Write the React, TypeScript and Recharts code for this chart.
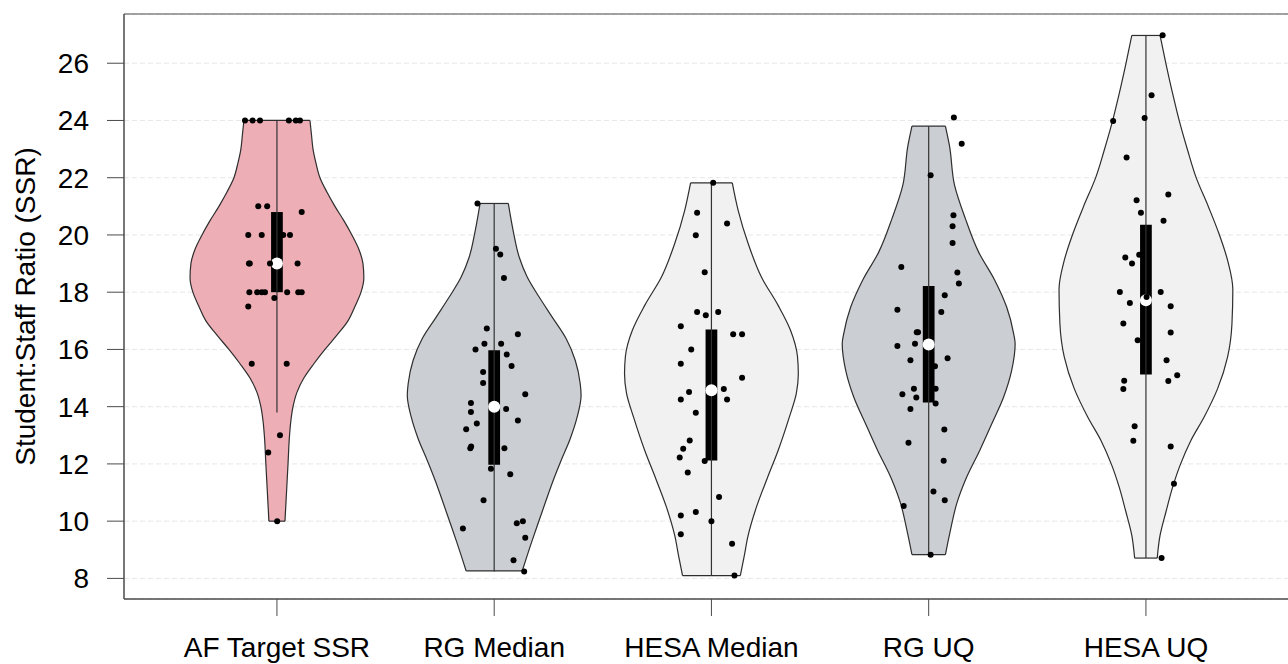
import React from 'react';
import { ComposedChart, Area, Line, Scatter, XAxis, YAxis, CartesianGrid, ReferenceArea } from 'recharts';

const categories = ['AF Target SSR', 'RG Median', 'HESA Median', 'RG UQ', 'HESA UQ'];
const yTicks = [8, 10, 12, 14, 16, 18, 20, 22, 24, 26];

// violin outlines: [SSR, half width in category units]
const afOutline = [
  [10, 0.037], [11, 0.044], [12, 0.051], [13, 0.058], [13.5, 0.064], [14, 0.074], [14.5, 0.092],
  [15, 0.124], [15.5, 0.17], [16, 0.221], [16.5, 0.276], [17, 0.327], [17.5, 0.359], [18, 0.387],
  [18.5, 0.4], [19, 0.396], [19.5, 0.377], [20, 0.345], [20.5, 0.308], [21, 0.267], [21.5, 0.23],
  [22, 0.198], [22.5, 0.18], [23, 0.166], [23.5, 0.159], [24, 0.152],
];
const rgMedianOutline = [
  [8.26, 0.129], [9.33, 0.175], [10.03, 0.207], [10.73, 0.239], [11.43, 0.272], [12.12, 0.308],
  [12.88, 0.35], [13.64, 0.382], [14.4, 0.4], [14.8, 0.396], [15.62, 0.373], [16.38, 0.331],
  [17.13, 0.267], [17.83, 0.207], [18.53, 0.152], [19.23, 0.115], [20.16, 0.087], [21.1, 0.065],
];
const hesaMedianOutline = [
  [8.1, 0.133], [8.74, 0.15], [9.5, 0.169], [10.49, 0.207], [11.5, 0.257], [12.47, 0.307],
  [13.6, 0.357], [14.47, 0.391], [15.15, 0.4], [15.76, 0.396], [16.67, 0.364], [17.54, 0.307],
  [18.53, 0.23], [19.7, 0.169], [20.86, 0.123], [21.82, 0.096],
];
const rgUqOutline = [
  [8.83, 0.077], [9.68, 0.1], [10.61, 0.129], [11.54, 0.175], [12.47, 0.235], [13.41, 0.291],
  [14.34, 0.345], [15.27, 0.382], [16.2, 0.398], [16.55, 0.391], [17.48, 0.359], [18.42, 0.304],
  [19.4, 0.23], [20.57, 0.169], [21.74, 0.119], [23.1, 0.096], [23.8, 0.077],
];
const hesaUqOutline = [
  [8.71, 0.052], [9.5, 0.065], [10.32, 0.092], [11.19, 0.123], [11.95, 0.157], [12.82, 0.207],
  [13.64, 0.268], [14.63, 0.33], [15.74, 0.376], [16.9, 0.396], [18.1, 0.4], [19.11, 0.376],
  [20.05, 0.336], [20.98, 0.288], [22.03, 0.23], [22.96, 0.192], [23.89, 0.157], [24.94, 0.123],
  [25.99, 0.092], [26.97, 0.065],
];

// jittered observations: [offset from centre, SSR]
const afPoints = [
  [-0.147, 24], [-0.112, 24], [-0.078, 24], [0.055, 24], [0.087, 24], [0.106, 24],
  [-0.086, 21], [-0.045, 21], [0.114, 20.8],
  [-0.132, 20], [-0.07, 20], [0.029, 20], [0.06, 20],
  [-0.129, 19], [-0.125, 19], [-0.032, 19], [0.095, 19],
  [-0.127, 18], [-0.091, 18], [-0.07, 18], [-0.055, 18], [0.047, 18], [0.098, 18], [0.114, 18],
  [-0.012, 17.8], [-0.132, 17.5], [-0.116, 15.5], [0.045, 15.5], [0.014, 13], [-0.04, 12.4], [0.001, 10],
];
const rgMedianPoints = [
  [-0.077, 21.1], [0.008, 19.52], [0.028, 19.32], [0.045, 18.5], [-0.034, 16.73], [0.109, 16.53],
  [-0.086, 16.0], [-0.045, 16.2], [0.032, 16.2], [0.058, 15.82], [0.08, 15.42], [-0.051, 15.21],
  [-0.051, 14.83], [0.143, 14.43], [-0.107, 14.13], [-0.107, 13.81], [0.055, 13.92], [-0.08, 13.41],
  [-0.129, 13.21], [0.109, 13.52], [-0.11, 12.55], [-0.106, 12.61], [0.047, 12.55], [-0.015, 11.83],
  [0.074, 11.64], [-0.049, 10.73], [-0.144, 9.74], [0.104, 9.93], [0.132, 10.0], [0.143, 9.42],
  [0.089, 8.63], [0.138, 8.24],
];
const hesaMedianPoints = [
  [0.008, 21.82], [-0.066, 20.78], [0.072, 20.4], [-0.072, 19.99], [-0.031, 18.7], [-0.066, 17.31],
  [-0.026, 17.19], [0.031, 17.31], [-0.141, 16.81], [0.1, 16.53], [0.141, 16.53], [-0.093, 16.0],
  [-0.141, 15.5], [0.141, 15.01], [0.057, 14.62], [-0.103, 14.51], [-0.141, 14.25], [0.072, 14.25],
  [-0.072, 13.79], [-0.1, 12.82], [-0.13, 12.53], [-0.146, 12.22], [-0.031, 12.1], [-0.109, 11.7],
  [0.035, 10.84], [-0.141, 10.2], [-0.072, 10.32], [0, 10.0], [-0.141, 9.54], [0.095, 9.21],
  [0.106, 8.1],
];
const rgUqPoints = [
  [0.116, 24.1], [0.152, 23.19], [0.009, 22.09], [0.114, 20.69], [0.11, 20.3], [0.11, 19.72],
  [-0.126, 18.88], [0.132, 18.69], [0.139, 18.3], [0.074, 17.89], [-0.144, 17.39], [0.058, 17.31],
  [-0.055, 16.6], [-0.049, 16.6], [-0.063, 16.2], [-0.144, 16.12], [-0.084, 15.62], [0.087, 15.69],
  [0.029, 15.41], [-0.068, 14.63], [0.032, 14.63], [-0.121, 14.43], [-0.057, 14.32], [-0.084, 13.92],
  [0.032, 14.11], [0.072, 13.2], [-0.093, 12.74], [0.069, 12.11], [0.022, 11.04], [0.074, 10.73],
  [-0.115, 10.53], [0.009, 8.83],
];
const hesaUqPoints = [
  [0.077, 26.98], [0.026, 24.88], [-0.006, 24.09], [-0.151, 23.98], [-0.089, 22.71], [0.103, 21.41],
  [-0.043, 21.21], [-0.023, 20.78], [0.081, 20.5], [-0.031, 19.31], [-0.095, 19.21], [-0.064, 19.0],
  [-0.12, 18.01], [0.068, 18.01], [0.003, 17.83], [-0.074, 17.62], [0.114, 17.51], [-0.104, 16.91],
  [0.114, 16.59], [-0.038, 16.32], [0.095, 15.62], [0.144, 15.1], [-0.1, 14.91], [0.103, 14.9],
  [-0.104, 14.62], [-0.052, 13.32], [-0.058, 12.81], [0.114, 12.61], [0.129, 11.31], [0.072, 8.71],
];

// [lower whisker, Q1, median, Q3, upper whisker]
const boxStats = [
  [13.8, 18.0, 19.0, 20.8, 24.0],
  [8.24, 11.97, 14.0, 15.97, 21.1],
  [8.1, 12.12, 14.57, 16.7, 21.82],
  [8.83, 14.15, 16.17, 18.22, 23.8],
  [8.71, 15.12, 17.72, 20.36, 26.98],
];

const outlines = [afOutline, rgMedianOutline, hesaMedianOutline, rgUqOutline, hesaUqOutline];
const pointSets = [afPoints, rgMedianPoints, hesaMedianPoints, rgUqPoints, hesaUqPoints];
const violinFills = ['#EEAEB5', '#CBCED3', '#F1F1F1', '#CBCED3', '#F1F1F1'];

const X_DOMAIN: [number, number] = [0.296, 5.7];
const Y_DOMAIN: [number, number] = [7.28, 27.72];
const BOX_HALF = 0.027;
const FONT = '"Liberation Sans", Arial, sans-serif';
const OUTLINE = '#2e2e2e';
const AXIS = '#4a4a4a';

const violinData = outlines.map((o, i) => o.map(([v, w]) => ({ v, range: [i + 1 - w, i + 1 + w] })));
const capData = outlines.flatMap((o, i) =>
  [o[0], o[o.length - 1]].map(([v, w]) => [{ v, x: i + 1 - w }, { v, x: i + 1 + w }])
);
const whiskerData = boxStats.map(([lo, , , , hi], i) => [{ v: lo, x: i + 1 }, { v: hi, x: i + 1 }]);
const boxData = boxStats.map(([, q1, , q3], i) => [
  { v: q1, range: [i + 1 - BOX_HALF, i + 1 + BOX_HALF] },
  { v: q3, range: [i + 1 - BOX_HALF, i + 1 + BOX_HALF] },
]);
const medianData = boxStats.map(([, , med], i) => ({ x: i + 1, v: med }));
const pointData = pointSets.flatMap((pts, i) => pts.map(([j, v]) => ({ x: i + 1 + j, v })));

const CategoryTick = (props: any) => {
  const { x, y, payload } = props;
  return (
    <text x={x} y={y} dy={39} textAnchor="middle" fontSize={28} fontFamily={FONT} fill="#000">
      {categories[payload.value - 1]}
    </text>
  );
};

const YLabel = (props: any) => {
  const { viewBox } = props;
  const cx = viewBox.x + 25;
  const cy = viewBox.y + viewBox.height / 2;
  return (
    <text
      x={cx}
      y={cy}
      transform={`rotate(-90 ${cx} ${cy})`}
      textAnchor="middle"
      dominantBaseline="central"
      fontSize={28}
      fontFamily={FONT}
      fill="#000"
    >
      Student:Staff Ratio (SSR)
    </text>
  );
};

export default function App() {
  return (
    <div style={{ width: 1288, height: 664, overflow: 'hidden', background: '#fff' }}>
      <style>{'body{margin:0}'}</style>
      <ComposedChart width={1298} height={664} layout="vertical" margin={{ top: 14, right: 0, bottom: 0, left: 0 }}>
        <CartesianGrid vertical={false} stroke="#e6e6e6" strokeDasharray="5 3" />
        <XAxis
          type="number"
          dataKey="x"
          domain={X_DOMAIN}
          allowDataOverflow
          ticks={[1, 2, 3, 4, 5]}
          interval={0}
          height={65}
          tickSize={17}
          stroke={AXIS}
          tick={<CategoryTick />}
        />
        <YAxis
          type="number"
          dataKey="v"
          reversed
          domain={Y_DOMAIN}
          allowDataOverflow
          ticks={yTicks}
          interval={0}
          width={124}
          tickSize={17}
          tickMargin={18}
          stroke={AXIS}
          tick={{ fontSize: 28, fontFamily: FONT, fill: '#000' }}
          label={{ content: <YLabel /> }}
        />
        {violinData.map((d, i) => (
          <Area
            key={`violin-${i}`}
            data={d}
            dataKey="range"
            type="monotone"
            fill={violinFills[i]}
            fillOpacity={1}
            stroke={OUTLINE}
            strokeWidth={1.2}
            isAnimationActive={false}
            activeDot={false}
          />
        ))}
        {capData.map((d, i) => (
          <Line
            key={`cap-${i}`}
            data={d}
            dataKey="x"
            type="linear"
            stroke={OUTLINE}
            strokeWidth={1.2}
            dot={false}
            activeDot={false}
            isAnimationActive={false}
          />
        ))}
        {whiskerData.map((d, i) => (
          <Line
            key={`whisker-${i}`}
            data={d}
            dataKey="x"
            type="linear"
            stroke="#333"
            strokeWidth={1.2}
            dot={false}
            activeDot={false}
            isAnimationActive={false}
          />
        ))}
        {boxData.map((d, i) => (
          <Area
            key={`box-${i}`}
            data={d}
            dataKey="range"
            type="linear"
            fill="#000"
            fillOpacity={1}
            stroke="none"
            isAnimationActive={false}
            activeDot={false}
          />
        ))}
        <Scatter
          data={medianData}
          isAnimationActive={false}
          shape={(p: any) => <circle cx={p.cx} cy={p.cy} r={6} fill="#fff" />}
        />
        <Scatter
          data={pointData}
          isAnimationActive={false}
          shape={(p: any) => <circle cx={p.cx} cy={p.cy} r={3} fill="#000" />}
        />
        <ReferenceArea
          x1={X_DOMAIN[0]}
          x2={X_DOMAIN[1]}
          y1={Y_DOMAIN[0]}
          y2={Y_DOMAIN[1]}
          fill="none"
          stroke={AXIS}
          strokeWidth={1}
          ifOverflow="visible"
        />
      </ComposedChart>
    </div>
  );
}
